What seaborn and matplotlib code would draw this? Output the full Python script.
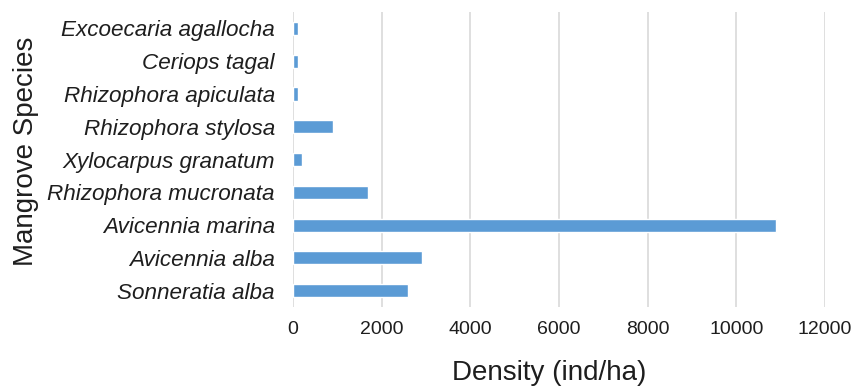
import matplotlib
matplotlib.use("Agg")
import matplotlib.pyplot as plt
import seaborn as sns
import pandas as pd

# Mangrove stand density by species (top to bottom as listed)
species = [
    "Excoecaria agallocha",
    "Ceriops tagal",
    "Rhizophora apiculata",
    "Rhizophora stylosa",
    "Xylocarpus granatum",
    "Rhizophora mucronata",
    "Avicennia marina",
    "Avicennia alba",
    "Sonneratia alba",
]
density = [120, 120, 120, 900, 200, 1700, 10900, 2900, 2600]
x_ticks = [0, 2000, 4000, 6000, 8000, 10000, 12000]

df = pd.DataFrame({"Species": species, "Density": density})

sns.set_theme(style="white")
plt.rcParams["font.family"] = ["Liberation Sans", "DejaVu Sans"]

fig = plt.figure(figsize=(8.58, 3.87), dpi=100)
ax = fig.add_axes([0.3415, 0.2067, 0.62, 0.7623])

sns.barplot(data=df, x="Density", y="Species", order=species, orient="h",
            color="#5B9BD5", saturation=1, width=0.4, ax=ax)

ax.set_xlim(0, 12000)
ax.set_ylim(len(species) - 0.5, -0.5)
ax.set_xticks(x_ticks)
ax.set_xticklabels([str(t) for t in x_ticks])
ax.xaxis.grid(True, color="#d9d9d9", linewidth=1.2)
ax.yaxis.grid(False)
ax.set_axisbelow(True)
for s in ax.spines.values():
    s.set_visible(False)

txt = "#1e1e1e"
ax.tick_params(axis="x", length=0, pad=10, labelsize=14, labelcolor=txt)
ax.tick_params(axis="y", length=0, pad=13, labelsize=16.2, labelcolor=txt)
for lbl in ax.get_yticklabels():
    lbl.set_fontstyle("italic")

ax.set_xlabel("Density (ind/ha)", fontsize=20, color=txt)
ax.xaxis.set_label_coords(0.481, -0.247)
ax.xaxis.label.set_va("baseline")
ax.set_ylabel("Mangrove Species", fontsize=20, color=txt)
ax.yaxis.set_label_coords(-0.477, 0.527)

fig.savefig("out.png", dpi=100)
